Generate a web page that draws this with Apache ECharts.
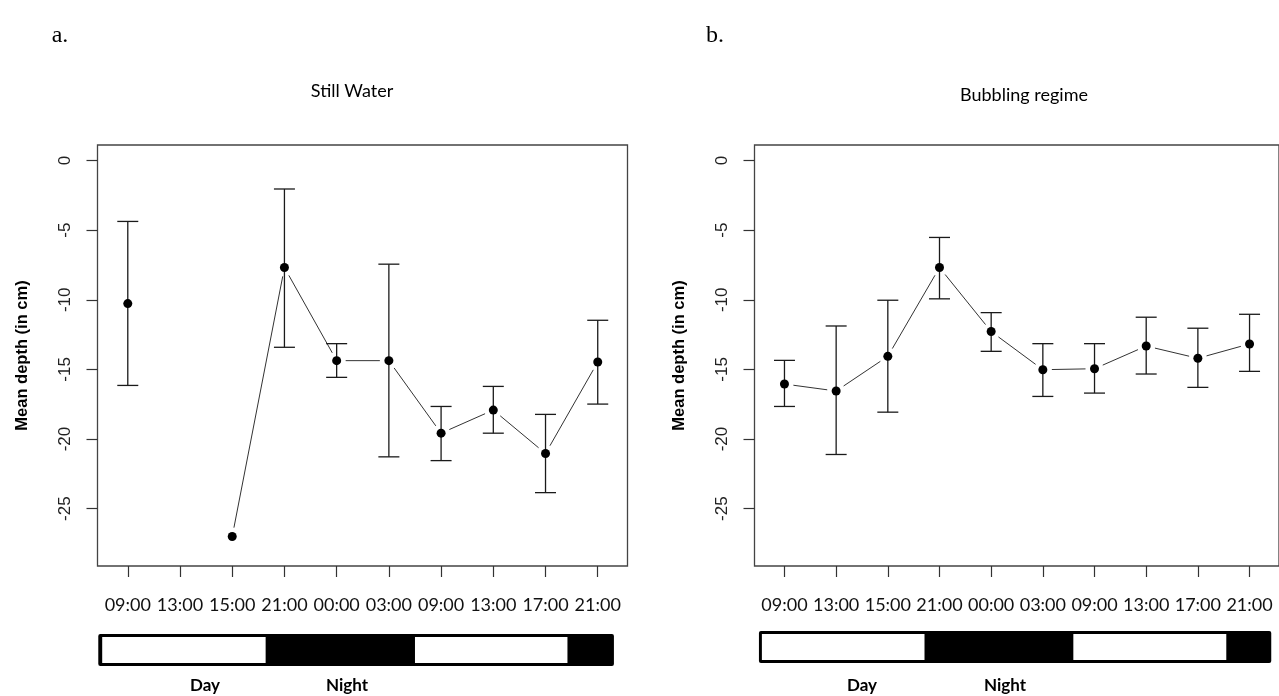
<!DOCTYPE html>
<html>
<head>
<meta charset="utf-8">
<script src="https://cdn.jsdelivr.net/npm/echarts@6/dist/echarts.min.js"></script>
<style>
html,body{margin:0;padding:0;background:#fff;}
#chart{width:1279px;height:696px;}
</style>
</head>
<body>
<div id="chart"></div>
<script>
// ---- data ----
const timeLabels = ['09:00','13:00','15:00','21:00','00:00','03:00','09:00','13:00','17:00','21:00'];
const xPositions = [1,2,3,4,5,6,7,8,9,10];
const yTicks = [0,-5,-10,-15,-20,-25];

const stillMean  = [-10.27, null, -27.0, -7.68, -14.37, -14.37, -19.58, -17.92, -21.04, -14.47];
const stillUpper = [-4.37,  null, null,  -2.04, -13.15, -7.44,  -17.66, -16.22, -18.23, -11.47];
const stillLower = [-16.15, null, null,  -13.41,-15.57, -21.28, -21.55, -19.58, -23.85, -17.49];

const bubMean  = [-16.05, -16.55, -14.06, -7.68, -12.28, -15.02, -14.95, -13.32, -14.20, -13.17];
const bubUpper = [-14.35, -11.88, -10.03, -5.52, -10.92, -13.15, -13.15, -11.25, -12.04, -11.04];
const bubLower = [-17.66, -21.11, -18.07, -9.93, -13.70, -16.94, -16.70, -15.33, -16.29, -15.14];

// day/night strip (in x-axis units): whole strip span, and day (white) periods
const stripSpanA = [0.435, 10.31];
const dayPeriodsA = [[0.51, 3.64], [6.50, 9.42]];
const stripSpanB = [0.506, 10.42];
const dayPeriodsB = [[0.563, 3.71], [6.59, 9.55]];

const panelTitles = ['Still Water', 'Bubbling regime'];
const panelLetters = ['a.', 'b.'];
const yTitle = 'Mean depth (in cm)';
const dayLabel = 'Day', nightLabel = 'Night';

// ---- helpers ----
const X_MIN = 0.42, X_MAX = 10.57, Y_MIN = -29.12, Y_MAX = 1.12;

function errData(lo, hi){
  const out = [];
  xPositions.forEach((x,i)=>{ if(lo[i]!=null && hi[i]!=null) out.push([x, lo[i], hi[i]]); });
  return out;
}
function ptData(m){
  const out = [];
  xPositions.forEach((x,i)=>{ if(m[i]!=null) out.push([x, m[i]]); });
  return out;
}
function segData(m){
  const out = [];
  for(let i=0;i<m.length-1;i++){
    if(m[i]!=null && m[i+1]!=null) out.push([xPositions[i], m[i], xPositions[i+1], m[i+1]]);
  }
  return out;
}
function stripData(span, days){
  const out = [[span[0], span[1], 0]];
  days.forEach(d=>out.push([d[0], d[1], 1]));
  return out;
}

function renderErr(params, api){
  const x = api.value(0), lo = api.value(1), hi = api.value(2);
  const t = api.coord([x, hi]), b = api.coord([x, lo]);
  const w = 10.5;
  const st = {stroke:'#1a1a1a', lineWidth:1.3};
  return {type:'group', children:[
    {type:'line', shape:{x1:t[0],y1:t[1],x2:b[0],y2:b[1]}, style:st},
    {type:'line', shape:{x1:t[0]-w,y1:t[1],x2:t[0]+w,y2:t[1]}, style:st},
    {type:'line', shape:{x1:b[0]-w,y1:b[1],x2:b[0]+w,y2:b[1]}, style:st}
  ]};
}
function renderSeg(params, api){
  const a = api.coord([api.value(0), api.value(1)]);
  const b = api.coord([api.value(2), api.value(3)]);
  const dx = b[0]-a[0], dy = b[1]-a[1];
  const d = Math.sqrt(dx*dx+dy*dy);
  const gap = 9;
  if(d <= 2*gap) return null;
  const ux = dx/d, uy = dy/d;
  return {type:'line', shape:{x1:a[0]+ux*gap, y1:a[1]+uy*gap, x2:b[0]-ux*gap, y2:b[1]-uy*gap},
          style:{stroke:'#333', lineWidth:1}};
}
function renderStrip(params, api){
  const kind = api.value(2);
  const p1 = api.coord([api.value(0), 1]);
  const p2 = api.coord([api.value(1), 0]);
  if(kind === 0){
    return {type:'rect', shape:{x:p1[0], y:p1[1], width:p2[0]-p1[0], height:p2[1]-p1[1], r:2},
            style:{fill:'#000'}};
  }
  const inset = 3;
  return {type:'rect', shape:{x:p1[0], y:p1[1]+inset, width:p2[0]-p1[0], height:p2[1]-p1[1]-2*inset},
          style:{fill:'#fff'}};
}

const plotGrids = [
  {left:97.5, top:145, width:530, height:421},
  {left:754.5, top:145, width:531, height:421}
];
const stripGrids = [
  {left:97.5, top:634, width:530, height:32},
  {left:754.5, top:631, width:531, height:32}
];

const grid = [];
plotGrids.forEach(g=>grid.push(Object.assign({show:true, borderColor:'#444', borderWidth:1.3, backgroundColor:'transparent'}, g)));
stripGrids.forEach(g=>grid.push(Object.assign({show:false}, g)));

const xAxis = [], yAxis = [];
[0,1].forEach(i=>{
  xAxis.push({
    type:'value', gridIndex:i, min:X_MIN, max:X_MAX, position:'bottom',
    axisLine:{show:false, onZero:false}, splitLine:{show:false},
    axisTick:{show:true, customValues:xPositions, length:11, lineStyle:{color:'#333', width:1.2}},
    axisLabel:{show:true, customValues:xPositions, margin:30,
      formatter:(v)=>timeLabels[Math.round(v)-1] || '',
      fontFamily:'Lato', fontSize:18, color:'#111'}
  });
  yAxis.push({
    type:'value', gridIndex:i, min:Y_MIN, max:Y_MAX, position:'left',
    axisLine:{show:false, onZero:false}, splitLine:{show:false},
    axisTick:{show:true, customValues:yTicks, length:11, lineStyle:{color:'#333', width:1.2}},
    axisLabel:{show:true, customValues:yTicks, rotate:90, margin:24,
      fontFamily:'Liberation Sans', fontSize:17, color:'#222'},
    name:yTitle, nameLocation:'middle', nameGap:67,
    nameTextStyle:{fontFamily:'Liberation Sans', fontWeight:'bold', fontSize:16.5, color:'#000'}
  });
});
[2,3].forEach(i=>{
  xAxis.push({type:'value', gridIndex:i, min:X_MIN, max:X_MAX, show:false});
  yAxis.push({type:'value', gridIndex:i, min:0, max:1, show:false});
});

const panels = [
  {mean:stillMean, lo:stillLower, hi:stillUpper},
  {mean:bubMean, lo:bubLower, hi:bubUpper}
];
const series = [];
panels.forEach((p,i)=>{
  series.push({type:'custom', xAxisIndex:i, yAxisIndex:i, renderItem:renderSeg, data:segData(p.mean), silent:true, z:2});
  series.push({type:'custom', xAxisIndex:i, yAxisIndex:i, renderItem:renderErr, data:errData(p.lo,p.hi), silent:true, z:3});
  series.push({type:'scatter', xAxisIndex:i, yAxisIndex:i, data:ptData(p.mean), symbol:'circle', symbolSize:9,
               itemStyle:{color:'#000', opacity:1}, silent:true, z:4});
});
series.push({type:'custom', xAxisIndex:2, yAxisIndex:2, renderItem:renderStrip, data:stripData(stripSpanA, dayPeriodsA), silent:true});
series.push({type:'custom', xAxisIndex:3, yAxisIndex:3, renderItem:renderStrip, data:stripData(stripSpanB, dayPeriodsB), silent:true});

function txt(text, x, y, font, rot){
  return {type:'text', x:x, y:y, rotation:rot||0,
    style:{text:text, font:font, fill:'#000', textAlign:'center', textVerticalAlign:'middle', align:'center', verticalAlign:'middle'}};
}
const graphic = [
  txt(panelLetters[0], 60, 36, '24px "Liberation Serif"'),
  txt(panelLetters[1], 715, 36, '24px "Liberation Serif"'),
  txt(panelTitles[0], 352, 91, '18px Lato'),
  txt(panelTitles[1], 1024, 95, '18px Lato'),
  txt(dayLabel, 205, 686, 'bold 17px Lato'),
  txt(nightLabel, 347, 686, 'bold 17px Lato'),
  txt(dayLabel, 862, 686, 'bold 17px Lato'),
  txt(nightLabel, 1005, 686, 'bold 17px Lato')
];

const chart = echarts.init(document.getElementById('chart'), null, {renderer:'canvas'});
chart.setOption({
  animation:false,
  backgroundColor:'#fff',
  grid:grid, xAxis:xAxis, yAxis:yAxis, series:series, graphic:graphic
});
</script>
</body>
</html>
